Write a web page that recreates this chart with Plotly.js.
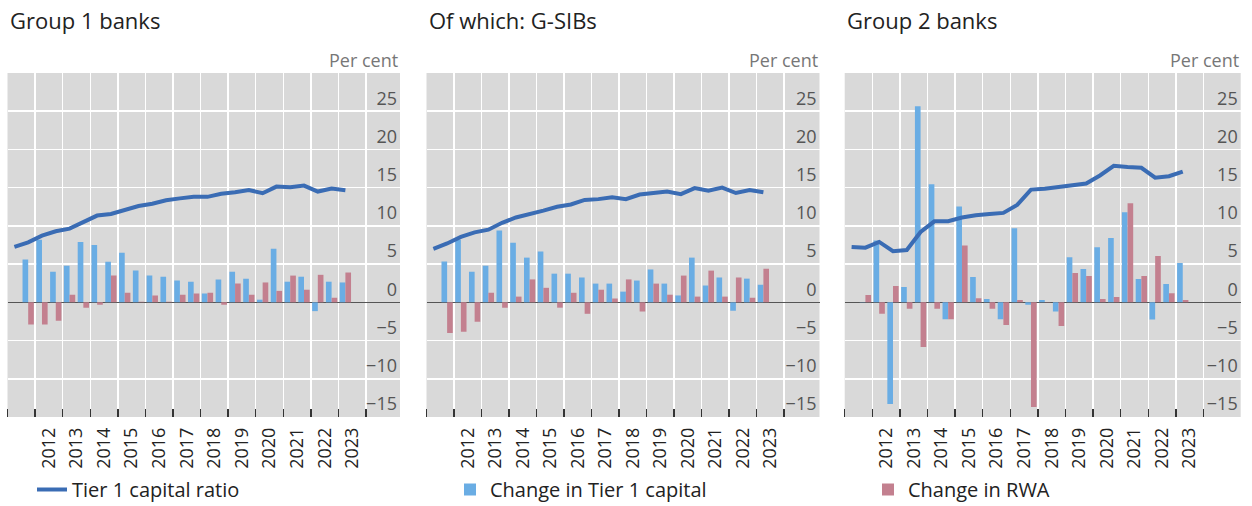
<!DOCTYPE html>
<html>
<head>
<meta charset="utf-8">
<script src="https://cdn.plot.ly/plotly-3.0.1.min.js"></script>
<style>html,body{margin:0;padding:0;background:#fff;}#chart{width:1252px;height:506px;}</style>
</head>
<body>
<div id="chart"></div>
<script>
// Half-year periods for the ratio line (levels) and for changes (bars)
const periods = ['2011H1','2011H2','2012H1','2012H2','2013H1','2013H2','2014H1','2014H2','2015H1','2015H2','2016H1','2016H2','2017H1','2017H2','2018H1','2018H2','2019H1','2019H2','2020H1','2020H2','2021H1','2021H2','2022H1','2022H2','2023H1'];
const changePeriods = periods.slice(1);
const tickYears = ['2012','2013','2014','2015','2016','2017','2018','2019','2020','2021','2022','2023'];
const yTicks = [-15,-10,-5,0,5,10,15,20,25];

const panelTitles = ['Group 1 banks','Of which: G-SIBs','Group 2 banks'];
const seriesNames = ['Tier 1 capital ratio','Change in Tier 1 capital','Change in RWA'];

// Group 1 banks
const g1Ratio = [7.25,7.85,8.73,9.3,9.64,10.5,11.35,11.56,12.09,12.6,12.9,13.35,13.6,13.8,13.8,14.2,14.4,14.7,14.27,15.14,15.06,15.27,14.49,14.88,14.66];
const g1Cap = [5.6,8.2,4.0,4.8,7.9,7.5,5.3,6.5,4.15,3.5,3.35,2.85,2.7,1.15,3.0,4.0,3.1,0.35,7.0,2.7,3.35,-1.15,2.7,2.6];
const g1Rwa = [-2.9,-2.9,-2.4,1.0,-0.7,-0.3,3.5,1.25,0.08,0.9,0.08,1.0,1.15,1.25,-0.3,2.45,1.0,2.6,1.5,3.5,1.65,3.6,0.6,3.9];

// Of which: G-SIBs
const gsibRatio = [7.0,7.7,8.55,9.15,9.5,10.4,11.1,11.5,12.0,12.5,12.8,13.4,13.5,13.75,13.5,14.1,14.3,14.5,14.15,14.95,14.6,15.0,14.3,14.7,14.4];
const gsibCap = [5.35,8.2,4.0,4.8,9.4,7.8,5.85,6.65,3.75,3.75,3.25,2.45,2.45,1.4,2.85,4.3,2.45,0.9,5.85,2.2,3.25,-1.1,3.1,2.3];
const gsibRwa = [-4.0,-3.85,-2.55,1.25,-0.7,0.75,3.0,1.9,-0.7,1.25,-1.5,1.65,0.5,3.0,-1.2,2.45,1.0,3.5,0.75,4.15,0.75,3.25,0.6,4.4];

// Group 2 banks
const g2Ratio = [7.25,7.15,7.9,6.7,6.85,9.2,10.6,10.6,11.1,11.4,11.55,11.7,12.75,14.75,14.85,15.05,15.25,15.55,16.6,17.85,17.7,17.6,16.3,16.5,17.1];
const g2Cap = [0.05,8.1,-13.3,2.0,25.65,15.45,-2.2,12.55,3.3,0.45,-2.2,9.7,-0.3,0.3,-1.2,5.9,4.35,7.2,8.4,11.8,3.05,-2.25,2.4,5.15];
const g2Rwa = [0.95,-1.5,2.15,-0.85,-5.85,-0.85,-2.2,7.45,0.55,-0.85,-2.95,0.3,-13.7,0.05,-3.1,3.85,3.45,0.45,0.7,12.95,3.45,6.05,1.2,0.3];

const W = 1252, H = 506;
const M = {l:0, r:0, t:73, b:89, autoexpand:false};
const px2x = p => (p - M.l) / (W - M.l - M.r);
const py2y = p => (H - M.b - p) / (H - M.t - M.b);

const toX = p => parseInt(p.slice(0,4)) + (p.slice(4) === 'H1' ? 0.25 : 0.75);
const lineX = periods.map(toX);
const barX = changePeriods.map(toX);
const yearCentres = tickYears.map(y => parseInt(y) + 0.5);
const boundaries = [2011].concat(tickYears.map(y => parseInt(y))).concat([2024]);

const colLine = '#3a6cb4', colCap = '#6aade4', colRwa = '#c3808f';

const panels = [
  {ratio:g1Ratio, cap:g1Cap, rwa:g1Rwa, dom:[7.5,400], right:2025.23},
  {ratio:gsibRatio, cap:gsibCap, rwa:gsibRwa, dom:[426.5,819.5], right:2025.29},
  {ratio:g2Ratio, cap:g2Cap, rwa:g2Rwa, dom:[844.7,1240.7], right:2025.35}
];

const legendBase = {
  orientation: 'h', xanchor: 'left', y: py2y(509), yanchor: 'bottom',
  font: {size: 20, color: '#222'}, bgcolor: 'rgba(0,0,0,0)'
};

const traces = [];
const layout = {
  width: W, height: H,
  margin: M,
  paper_bgcolor: '#ffffff',
  plot_bgcolor: '#d9d9d9',
  font: {family: 'Open Sans, sans-serif', color: '#222'},
  barmode: 'group',
  bargap: 0.18,
  bargroupgap: 0,
  showlegend: true,
  legend: Object.assign({}, legendBase, {x: px2x(32)}),
  legend2: Object.assign({}, legendBase, {x: px2x(450)}),
  legend3: Object.assign({}, legendBase, {x: px2x(868)}),
  annotations: []
};

panels.forEach((p, i) => {
  const n = i + 1;
  const xa = n === 1 ? 'x' : 'x' + n;
  const ya = n === 1 ? 'y' : 'y' + n;
  traces.push({type:'bar', x: barX, y: p.cap, xaxis: xa, yaxis: ya, name: seriesNames[1],
    marker: {color: colCap}, showlegend: i === 0, legend: 'legend2', hoverinfo: 'skip'});
  traces.push({type:'bar', x: barX, y: p.rwa, xaxis: xa, yaxis: ya, name: seriesNames[2],
    marker: {color: colRwa}, showlegend: i === 0, legend: 'legend3', hoverinfo: 'skip'});
  traces.push({type:'scatter', mode:'lines', x: lineX, y: p.ratio, xaxis: xa, yaxis: ya, name: seriesNames[0],
    line: {color: colLine, width: 4}, showlegend: i === 0, legend: 'legend', hoverinfo: 'skip'});

  layout['xaxis' + (n === 1 ? '' : n)] = {
    domain: [px2x(p.dom[0]), px2x(p.dom[1])],
    anchor: ya, automargin: false,
    range: [2011, p.right],
    tickmode: 'array', tickvals: yearCentres, ticktext: tickYears,
    tickangle: -90, ticks: '', showgrid: false, zeroline: false,
    ticklabelstandoff: 6,
    tickfont: {size: 18, color: '#222'},
    minor: {tickmode: 'array', tickvals: boundaries, ticks: 'inside', ticklen: 8, tickwidth: 1.5,
      tickcolor: '#333', showgrid: true, gridcolor: '#ffffff', gridwidth: 1.5},
    fixedrange: true
  };
  layout['yaxis' + (n === 1 ? '' : n)] = {
    domain: [0, 1], anchor: xa, side: 'right', automargin: false,
    range: [-15, 30],
    tickmode: 'array', tickvals: yTicks,
    ticklabelposition: 'inside', ticklabelshift: -13, ticks: '',
    tickfont: {size: 18, color: '#555'},
    showgrid: true, gridcolor: '#ffffff', gridwidth: 1.5,
    zeroline: true, zerolinecolor: '#555555', zerolinewidth: 1.5,
    fixedrange: true
  };
  layout.annotations.push({text: panelTitles[i], xref:'paper', yref:'paper', x: px2x(p.dom[0]), xanchor:'left',
    y: py2y(20), yanchor:'middle', showarrow:false, font:{size:22, color:'#222'}});
  layout.annotations.push({text: 'Per cent', xref:'paper', yref:'paper', x: px2x(p.dom[1]), xanchor:'right',
    y: py2y(60), yanchor:'middle', showarrow:false, font:{size:18, color:'#777'}});
});

Plotly.newPlot('chart', traces, layout, {displayModeBar: false, staticPlot: true});
</script>
</body>
</html>
